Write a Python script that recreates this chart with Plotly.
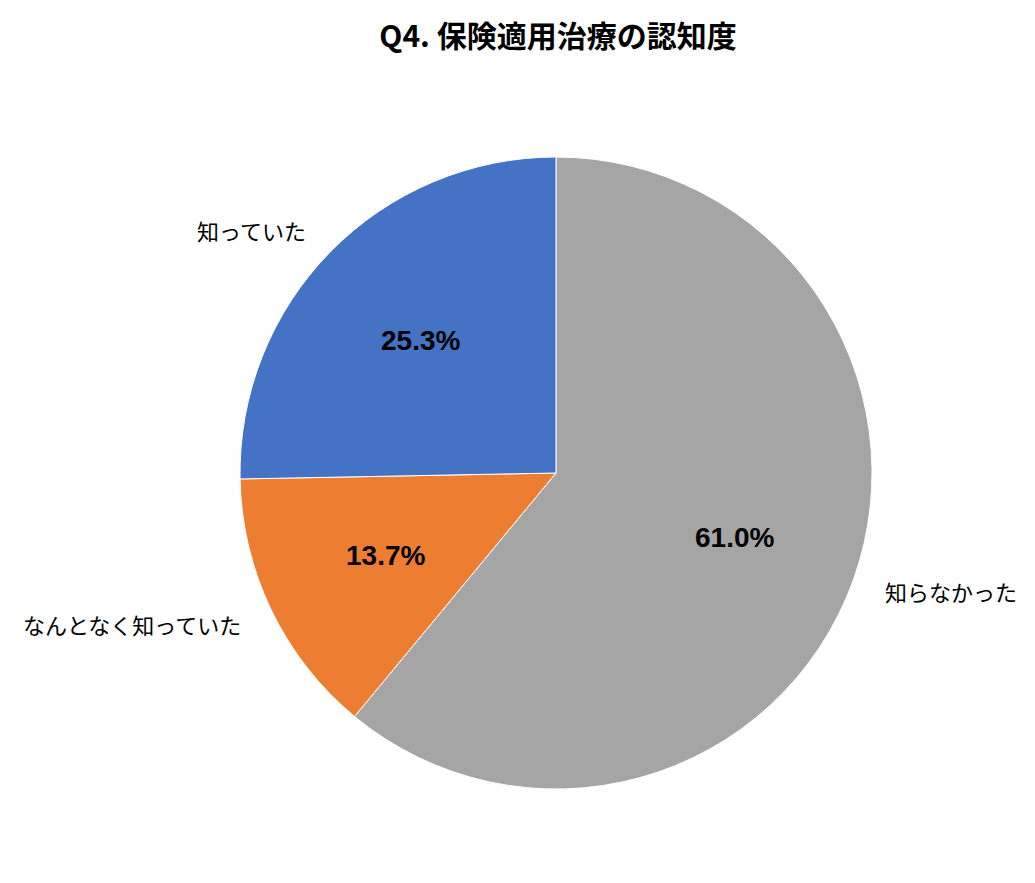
import math
import plotly.graph_objects as go

categories = ["知らなかった", "なんとなく知っていた", "知っていた"]
values = [61.0, 13.7, 25.3]
colors = ["#A5A5A5", "#ED7D31", "#4472C4"]
title_text = "Q4. 保険適用治療の認知度"

FONT = "Noto Sans CJK JP"
NUM_FONT = "Liberation Sans"

fig = go.Figure(go.Pie(
    labels=categories,
    values=values,
    sort=False,
    direction="clockwise",
    rotation=0,
    marker=dict(colors=colors, line=dict(color="white", width=1)),
    textinfo="none",
    hoverinfo="label+percent",
    showlegend=False,
))

annotations = []
total = sum(values)
cum = 0.0
for cat, v in zip(categories, values):
    mid = (cum + v / 2) / total * 2 * math.pi
    cum += v
    s, c = math.sin(mid), math.cos(mid)
    # percentage label inside
    annotations.append(dict(
        x=0.5 + 0.5 * 0.6 * s, y=0.5 + 0.5 * 0.6 * c,
        xref="paper", yref="paper", showarrow=False,
        text=f"{v:.1f}%", xanchor="center", yanchor="middle",
        font=dict(family=NUM_FONT, size=28, color="black", weight="bold"),
    ))
    # category label outside
    annotations.append(dict(
        x=0.5 + 0.5 * 1.1 * s, y=0.5 + 0.5 * 1.1 * c,
        xref="paper", yref="paper", showarrow=False,
        text=cat, xanchor="left" if s > 0 else "right", yanchor="middle",
        font=dict(family=FONT, size=22, color="black"),
    ))

fig.update_layout(
    width=1035, height=883,
    margin=dict(l=232, r=171, t=149, b=102),
    paper_bgcolor="white", plot_bgcolor="white",
    title=dict(text=title_text, x=550 / 1035, xanchor="center",
               y=1 - 28 / 883, yanchor="middle",
               font=dict(family=FONT, size=30, color="black", weight="bold")),
    annotations=annotations,
)

fig.write_html("out.html")
